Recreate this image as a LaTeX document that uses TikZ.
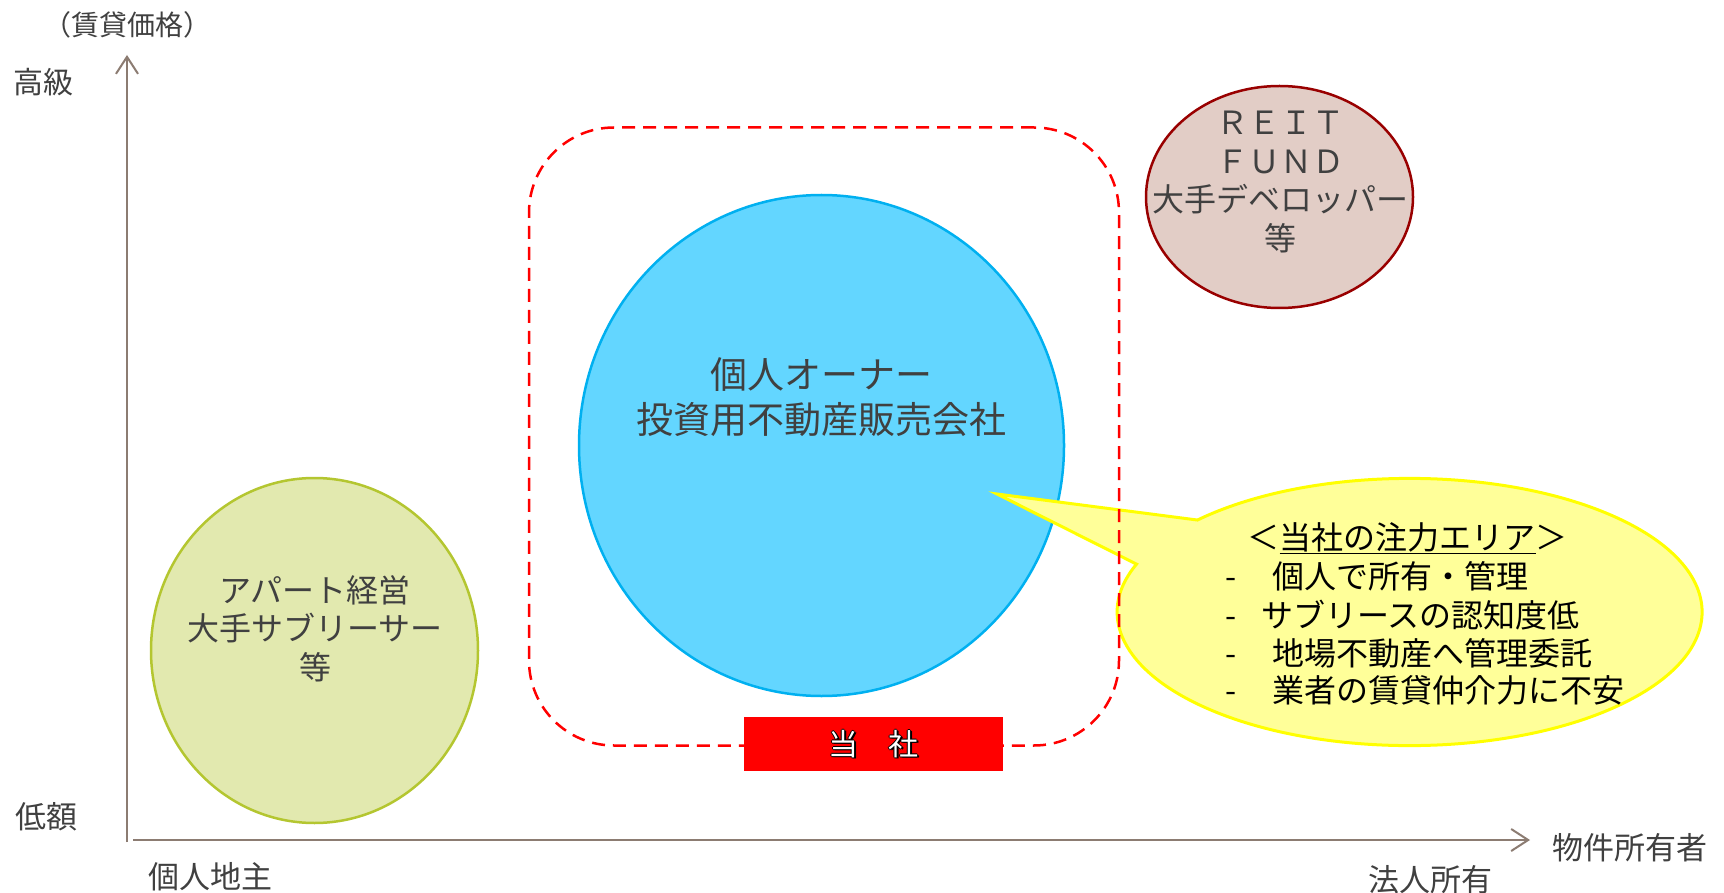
\documentclass[tikz,border=0pt]{standalone}
\usepackage{fontspec}
\setmainfont{Noto Sans CJK JP}
\usetikzlibrary{shapes.geometric,arrows.meta}
\definecolor{axisc}{RGB}{140,124,114}
\definecolor{txt}{RGB}{64,64,64}
\definecolor{bluef}{RGB}{99,214,255}
\definecolor{bluel}{RGB}{0,176,240}
\definecolor{greenf}{RGB}{226,233,175}
\definecolor{greenl}{RGB}{180,198,48}
\definecolor{reitf}{RGB}{226,205,198}
\definecolor{reitl}{RGB}{153,0,0}
\definecolor{bubf}{RGB}{255,255,153}
\definecolor{bubl}{RGB}{255,255,0}
\newcommand\fsz[2]{\fontsize{#1}{#2}\selectfont}
\begin{document}
\begin{tikzpicture}[x=1pt,y=-1pt,
  axisline/.style={draw=axisc,line width=2pt,-{Straight Barb[length=17pt,width=22pt,line width=2pt]}},
  lbl/.style={text=txt,inner sep=0pt,font=\fsz{31}{31}},
  circ/.style={ellipse,inner sep=0pt,line width=2.5pt},
  intext/.style={text=txt,inner sep=0pt,align=center},
  bubtext/.style={text=black,inner sep=0pt,font=\fsz{32}{32}},
  toshatext/.style={inner sep=0pt,font=\fsz{30}{30}}]
\useasboundingbox (0,0) rectangle (1724,893);
\fill[white] (0,0) rectangle (1724,893);

% axes
\coordinate (ybot) at (127,842);
\coordinate (ytop) at (127,55);
\coordinate (xleft) at (133,840);
\coordinate (xright) at (1530,840);
\draw[axisline] (ybot) -- (ytop);
\draw[axisline] (xleft) -- (xright);

% axis labels
\node[lbl,font=\fsz{28}{28}] (price) at (127,25) {（賃貸価格）};
\node[lbl,font=\fsz{30}{30}] (high) at (43,82) {高級};
\node[lbl] (low) at (46,817) {低額};
\node[lbl] (indiv) at (210,877) {個人地主};
\node[lbl] (corp) at (1430,880) {法人所有};
\node[lbl] (owner) at (1630,848) {物件所有者};

% circles
\node[circ,draw=greenl,fill=greenf,minimum width=327,minimum height=345] (green) at (314.5,650.5) {};
\node[intext,font=\fsz{32}{38.5}] (greent) at (315,628.5) {アパート経営\\大手サブリーサー\\等};

\node[circ,draw=reitl,fill=reitf,minimum width=267,minimum height=222] (reit) at (1279.5,197) {};
\node[intext,font=\fsz{32}{38.7}] (reitt) at (1280,182) {ＲＥＩＴ\\ＦＵＮＤ\\大手デベロッパー\\等};

\node[circ,draw=bluel,fill=bluef,minimum width=485,minimum height=501] (blue) at (821.5,445.5) {};
\node[intext,font=\fsz{37}{45}] (bluet) at (821,397.5) {個人オーナー\\投資用不動産販売会社};

% callout bubble
\coordinate (bubc) at (1409.6,612);
\coordinate (tip) at (997,494);
\draw[draw=bubl,fill=bubf,line width=3pt,line join=miter]
  (tip) -- ([shift={(223.5:292.5 and 133.6)}]bubc)
  arc[start angle=223.5,end angle=561,x radius=292.5,y radius=133.6] -- cycle;
\node[bubtext] (title) at (1407.5,538) {＜\underline{当社の注力エリア}＞};
\node[bubtext,anchor=west] (item1) at (1225,576) {\makebox[47pt][l]{-}個人で所有・管理};
\node[bubtext,anchor=west] (item2) at (1225,615) {\makebox[36pt][l]{-}サブリースの認知度低};
\node[bubtext,anchor=west] (item3) at (1225,653) {\makebox[47pt][l]{-}地場不動産へ管理委託};
\node[bubtext,anchor=west] (item4) at (1225,690) {\makebox[47pt][l]{-}業者の賃貸仲介力に不安};

% dashed zone
\node[draw=red,line width=2.5pt,dash pattern=on 13pt off 8pt,rounded corners=85pt,
  minimum width=590,minimum height=618,inner sep=0pt] (zone) at (824,436.5) {};

% company box
\node[fill=red,minimum width=259,minimum height=54,inner sep=0pt] (tosha) at (873.5,744) {};
\node[toshatext,text=black] (tsh1) at (875,745.5) {当\hspace{1em}社};
\node[toshatext,text=black] (tsh2) at (872.8,744) {当\hspace{1em}社};
\node[toshatext,text=black] (tsh3) at (874.2,744) {当\hspace{1em}社};
\node[toshatext,text=black] (tsh4) at (873.5,743.3) {当\hspace{1em}社};
\node[toshatext,text=black] (tsh5) at (873.5,744.7) {当\hspace{1em}社};
\node[toshatext,text=white] (tsht) at (873.5,744) {当\hspace{1em}社};
\end{tikzpicture}
\end{document}
